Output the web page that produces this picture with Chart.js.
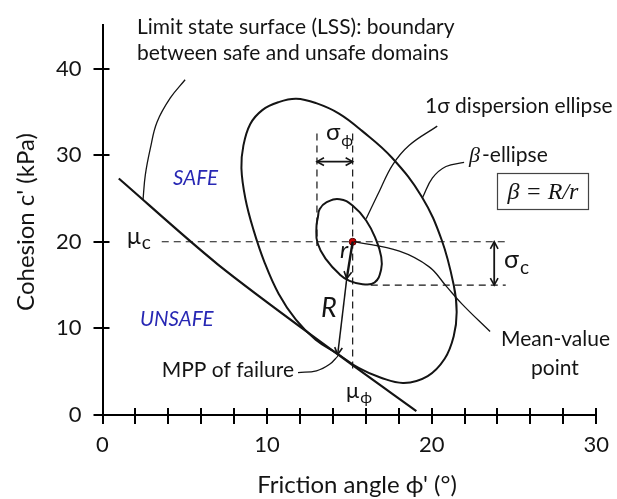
<!DOCTYPE html>
<html>
<head>
<meta charset="utf-8">
<script src="https://cdn.jsdelivr.net/npm/chart.js@4.4.1/dist/chart.umd.min.js"></script>
<style>
  html, body { margin: 0; padding: 0; background: #fff; }
  #wrap { width: 617px; height: 499px; }
</style>
</head>
<body>
<div id="wrap"><canvas id="chart" width="617" height="499"></canvas></div>
<script>
// tick labels
const xTickLabels = [0, 10, 20, 30];
const yTickLabels = [0, 10, 20, 30, 40];

// mean-value point
const meanPhi = [15.2];
const meanC = [20];

// limit state surface (slightly curved)
const lssPhi = [0.99, 7.0, 14.3, 19.07];
const lssC = [27.3, 17.4, 6.99, 0.45];

// 1 sigma dispersion ellipse
const ell1Phi = [13.09, 13.00, 13.07, 13.60, 14.41, 15.01, 15.80, 16.53, 16.93, 16.93, 16.63, 16.02, 15.21, 14.41, 13.60, 13.20];
const ell1C = [22.84, 21.71, 19.82, 17.93, 16.23, 15.48, 15.10, 15.29, 16.79, 18.31, 20.19, 22.46, 24.16, 24.92, 24.54, 23.78];

// beta ellipse
const ellBPhi = [8.44, 8.56, 8.98, 9.71, 10.68, 11.77, 12.98, 14.37, 15.77, 17.59, 19.40, 20.61, 21.34, 21.52, 21.34, 20.79, 19.76, 18.31, 16.92, 15.59, 14.26, 12.95, 11.75, 10.70, 9.85, 9.17, 8.68];
const ellBC = [28.5, 31.1, 33.6, 35.2, 36.1, 36.5, 36.0, 34.8, 32.8, 29.7, 25.2, 20.2, 15.0, 11.9, 9.1, 6.5, 4.5, 3.7, 4.3, 5.4, 7.1, 8.7, 11.0, 14.0, 17.6, 21.4, 25.0];

// dashed guide lines
const muCLinePhi = [3.6, 24.5];
const muCLineC = [20, 20];
const lowCLinePhi = [16.3, 24.5];
const lowCLineC = [15, 15];
const leftPhiLinePhi = [13.03, 13.03];
const leftPhiLineC = [32.5, 19.5];
const muPhiLinePhi = [15.2, 15.2];
const muPhiLineC = [32.5, 4.8];

// arrows
const sigPhiArrowPhi = [13.03, 15.2];
const sigPhiArrowC = [29.25, 29.25];
const sigCArrowPhi = [23.8, 23.8];
const sigCArrowC = [20, 15];
const rArrowPhi = [15.2, 14.84];
const rArrowC = [20, 15.74];
const bigRArrowPhi = [14.84, 14.29];
const bigRArrowC = [15.74, 6.98];

// leader lines
const lssLeadPhi = [5.02, 4.12, 3.31, 2.91, 2.60, 2.46];
const lssLeadC = [38.7, 36.6, 33.8, 30.8, 27.7, 24.8];
const ell1LeadPhi = [16.02, 16.83, 17.63, 18.64, 20.34];
const ell1LeadC = [22.65, 25.86, 28.88, 31.14, 33.35];
const ellBLeadPhi = [19.45, 20.05, 20.87, 21.97];
const ellBLeadC = [25.11, 27.37, 28.69, 29.16];
const meanLeadPhi = [15.31, 18.04, 19.85, 20.87, 21.85, 23.55];
const meanLeadC = [20.01, 18.91, 17.10, 14.91, 12.80, 9.63];
const mppLeadPhi = [11.88, 13.0, 13.80, 14.30];
const mppLeadC = [4.9, 5.1, 5.85, 6.8];

const SANS = 'Lato, "Open Sans", sans-serif';
const SERIF = '"Liberation Serif", "DejaVu Serif", serif';
const INK = '#141414';
const BLUE = '#2828b4';

function pts(xs, ys) {
    return xs.map((x, i) => ({ x: x, y: ys[i] }));
}

function lineSet(xs, ys, opts) {
    return Object.assign({
        data: pts(xs, ys),
        borderColor: INK,
        borderWidth: 2,
        pointRadius: 0,
        tension: 0,
        fill: false
    }, opts || {});
}

const datasets = [
    lineSet(lssPhi, lssC, { tension: 0.3, borderWidth: 2.2 }),
    lineSet(ellBPhi, ellBC, { tension: 0.4, closed: true }),
    lineSet(ell1Phi, ell1C, { tension: 0.45, closed: true }),
    lineSet(muCLinePhi, muCLineC, { borderWidth: 1.2, borderDash: [7, 5] }),
    lineSet(lowCLinePhi, lowCLineC, { borderWidth: 1.2, borderDash: [7, 5] }),
    lineSet(leftPhiLinePhi, leftPhiLineC, { borderWidth: 1.2, borderDash: [7, 5] }),
    lineSet(muPhiLinePhi, muPhiLineC, { borderWidth: 1.2, borderDash: [7, 5] }),
    lineSet(sigPhiArrowPhi, sigPhiArrowC, { borderWidth: 1.8 }),
    lineSet(sigCArrowPhi, sigCArrowC, { borderWidth: 1.8 }),
    lineSet(rArrowPhi, rArrowC, { borderWidth: 2.4 }),
    lineSet(bigRArrowPhi, bigRArrowC, { borderWidth: 1.5 }),
    lineSet(lssLeadPhi, lssLeadC, { borderWidth: 1.3, tension: 0.4 }),
    lineSet(ell1LeadPhi, ell1LeadC, { borderWidth: 1.3, tension: 0.4 }),
    lineSet(ellBLeadPhi, ellBLeadC, { borderWidth: 1.3, tension: 0.4 }),
    lineSet(meanLeadPhi, meanLeadC, { borderWidth: 1.3, tension: 0.4 }),
    lineSet(mppLeadPhi, mppLeadC, { borderWidth: 1.3, tension: 0.4 }),
    {
        data: pts(meanPhi, meanC),
        showLine: false,
        pointRadius: 3.5,
        pointBackgroundColor: '#c80000',
        pointBorderColor: '#5a0000',
        pointBorderWidth: 1
    }
];

// close the ellipses as smooth loops
const closeLoops = {
    id: 'closeLoops',
    beforeDatasetsDraw(chart) {
        chart.data.datasets.forEach((ds, i) => {
            if (!ds.closed) return;
            const line = chart.getDatasetMeta(i).dataset;
            line._loop = true;
            line._fullLoop = true;
            line._pointsUpdated = false;
            delete line._segments;
            line._path = undefined;
            line.updateControlPoints(chart.chartArea, 'x');
        });
    }
};

function arrowHead(ctx, fx, fy, tx, ty) {
    const a = Math.atan2(ty - fy, tx - fx);
    const len = 8, spread = 0.5;
    ctx.beginPath();
    ctx.moveTo(tx - len * Math.cos(a - spread), ty - len * Math.sin(a - spread));
    ctx.lineTo(tx, ty);
    ctx.lineTo(tx - len * Math.cos(a + spread), ty - len * Math.sin(a + spread));
    ctx.stroke();
}

function subText(ctx, main, sub, x, y, size, subSize, drop) {
    ctx.textAlign = 'left';
    ctx.font = size + 'px ' + SANS;
    ctx.fillText(main, x, y);
    const w = ctx.measureText(main).width;
    ctx.font = subSize + 'px ' + SANS;
    ctx.fillText(sub, x + w + 1, y + drop);
}

const decorations = {
    id: 'decorations',
    afterDraw(chart) {
        const ctx = chart.ctx;
        const xs = chart.scales.x, ys = chart.scales.y;
        const px = v => xs.getPixelForValue(v);
        const py = v => ys.getPixelForValue(v);
        const area = chart.chartArea;

        ctx.save();
        // inner half of the crossing tick marks
        ctx.strokeStyle = '#000';
        ctx.lineWidth = 2;
        xs.ticks.forEach(t => {
            const x = Math.round(px(t.value));
            ctx.beginPath();
            ctx.moveTo(x, area.bottom);
            ctx.lineTo(x, area.bottom - 7);
            ctx.stroke();
        });
        ys.ticks.forEach(t => {
            const y = Math.round(py(t.value));
            ctx.beginPath();
            ctx.moveTo(area.left, y);
            ctx.lineTo(area.left + 7, y);
            ctx.stroke();
        });

        // arrow heads
        ctx.strokeStyle = INK;
        ctx.lineWidth = 1.6;
        arrowHead(ctx, px(sigPhiArrowPhi[1]), py(sigPhiArrowC[1]), px(sigPhiArrowPhi[0]), py(sigPhiArrowC[0]));
        arrowHead(ctx, px(sigPhiArrowPhi[0]), py(sigPhiArrowC[0]), px(sigPhiArrowPhi[1]), py(sigPhiArrowC[1]));
        arrowHead(ctx, px(sigCArrowPhi[1]), py(sigCArrowC[1]), px(sigCArrowPhi[0]), py(sigCArrowC[0]));
        arrowHead(ctx, px(sigCArrowPhi[0]), py(sigCArrowC[0]), px(sigCArrowPhi[1]), py(sigCArrowC[1]));
        arrowHead(ctx, px(rArrowPhi[0]), py(rArrowC[0]), px(rArrowPhi[1]), py(rArrowC[1]));
        arrowHead(ctx, px(bigRArrowPhi[0]), py(bigRArrowC[0]), px(bigRArrowPhi[1]), py(bigRArrowC[1]));

        // axis titles
        ctx.fillStyle = INK;
        ctx.textBaseline = 'middle';
        ctx.textAlign = 'center';
        ctx.font = '24px ' + SANS;
        ctx.fillText("Friction angle \u03d5' (\u00b0)", 357, 485);
        ctx.save();
        ctx.translate(26, 222);
        ctx.rotate(-Math.PI / 2);
        ctx.fillText("Cohesion c' (kPa)", 0, 0);
        ctx.restore();

        // annotations
        ctx.textBaseline = 'alphabetic';
        ctx.textAlign = 'left';
        ctx.font = '21px ' + SANS;
        ctx.fillText('Limit state surface (LSS): boundary', 137, 34);
        ctx.fillText('between safe and unsafe domains', 137, 60);
        ctx.fillText('1\u03c3 dispersion ellipse', 425, 113);
        ctx.fillText('Mean-value', 501, 346);
        ctx.fillText('point', 531, 375);
        ctx.textAlign = 'right';
        ctx.fillText('MPP of failure', 294, 377);
        ctx.textAlign = 'left';
        ctx.fillText('-ellipse', 482, 162);
        ctx.font = 'italic 22px ' + SERIF;
        ctx.fillText('\u03b2', 469, 162);

        ctx.fillStyle = BLUE;
        ctx.font = 'italic 20.5px ' + SANS;
        ctx.fillText('SAFE', 173, 185);
        ctx.fillText('UNSAFE', 140, 326);

        ctx.fillStyle = INK;
        subText(ctx, '\u03bc', 'c', 127, 244, 23, 19, 5);
        subText(ctx, '\u03c3', '\u03d5', 326, 140, 24, 16, 6);
        subText(ctx, '\u03bc', '\u03d5', 346, 398, 22, 16, 5);
        subText(ctx, '\u03c3', 'c', 504, 268, 25, 19, 6);

        ctx.font = 'italic 24px ' + SANS;
        ctx.fillText('r', 340, 258);
        ctx.font = 'italic 27px ' + SANS;
        ctx.fillText('R', 321, 317);

        // beta = R/r box
        ctx.strokeStyle = '#444';
        ctx.lineWidth = 1.2;
        ctx.strokeRect(497.5, 173.5, 91, 36);
        ctx.font = 'italic 24px ' + SERIF;
        ctx.textAlign = 'center';
        ctx.fillText('\u03b2 = R/r', 543, 199);
        ctx.restore();
    }
};

const axisCommon = {
    grid: { drawOnChartArea: false, drawTicks: true, tickLength: 9, color: '#000', lineWidth: 2 },
    border: { display: true, color: '#000', width: 2 }
};

new Chart(document.getElementById('chart'), {
    type: 'line',
    data: { datasets: datasets },
    options: {
        responsive: false,
        animation: false,
        devicePixelRatio: 1,
        layout: { padding: { left: 0, top: 18, right: 19, bottom: 0 } },
        plugins: { legend: { display: false }, tooltip: { enabled: false } },
        scales: {
            x: Object.assign({}, axisCommon, {
                type: 'linear',
                min: 0,
                max: 30,
                ticks: {
                    stepSize: 2,
                    autoSkip: false,
                    maxRotation: 0,
                    padding: 8,
                    color: INK,
                    font: { family: SANS, size: 22 },
                    callback: v => xTickLabels.includes(v) ? String(v) : ''
                },
                afterFit: s => { s.height = 84; }
            }),
            y: Object.assign({}, axisCommon, {
                type: 'linear',
                min: 0,
                max: 45,
                ticks: {
                    stepSize: 10,
                    includeBounds: false,
                    padding: 12,
                    color: INK,
                    font: { family: SANS, size: 22 },
                    callback: v => yTickLabels.includes(v) ? String(v) : ''
                },
                afterFit: s => { s.width = 102.5; }
            })
        }
    },
    plugins: [closeLoops, decorations]
});
</script>
</body>
</html>
